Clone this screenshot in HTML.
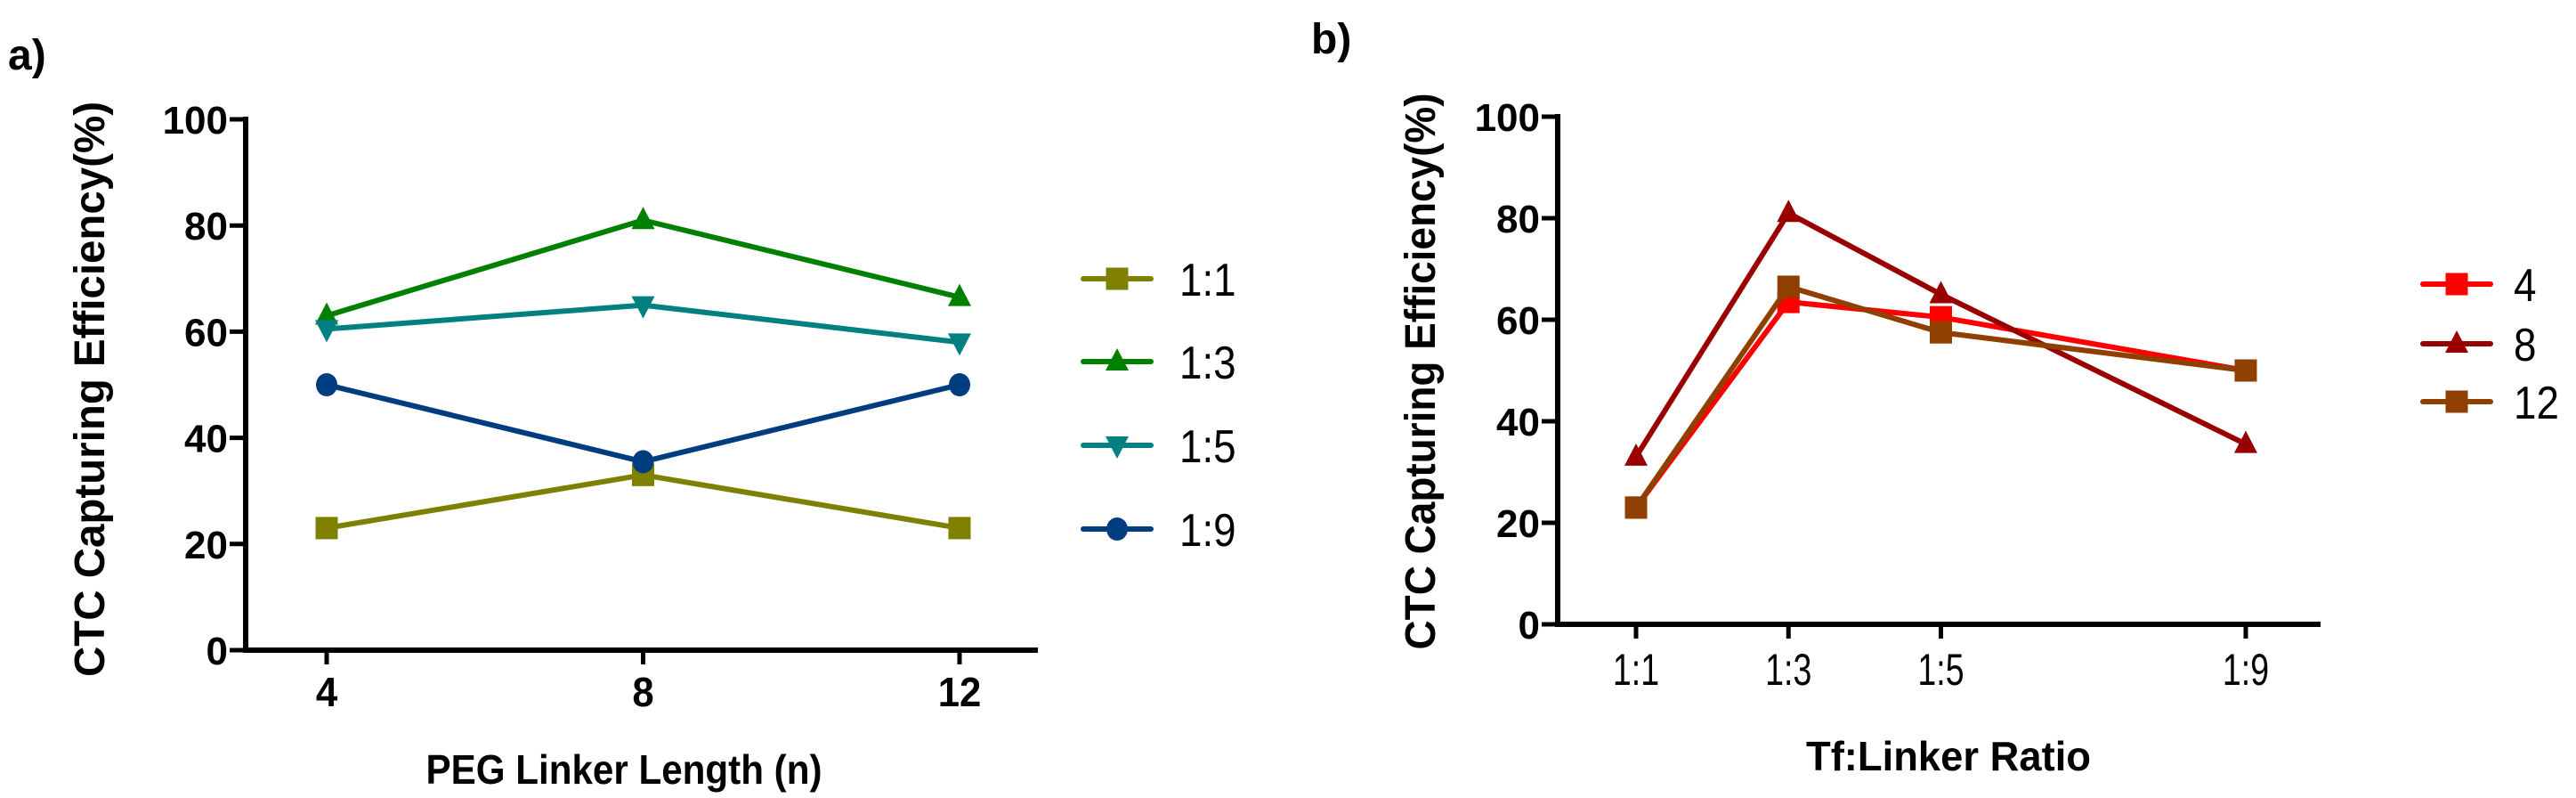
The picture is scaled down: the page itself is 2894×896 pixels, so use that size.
<!DOCTYPE html>
<html><head><meta charset="utf-8"><style>
body{margin:0;background:#fff}
svg{display:block;font-family:"Liberation Sans",Arial,sans-serif}
</style></head><body>
<svg id="c" width="2894" height="896" viewBox="0 0 2894 896" xmlns="http://www.w3.org/2000/svg"></svg>
<script>
const aCategories=[4,8,12];
const aSeriesNames=["1:1","1:3","1:5","1:9"];
const a11=[23,33,23];
const a13=[63,81,66.5];
const a15=[60.5,65,58];
const a19=[50,35.5,50];
const bCategories=["1:1","1:3","1:5","1:9"];
const bCatValues=[1,3,5,9];
const bSeriesNames=["4","8","12"];
const b4=[23,63.5,60.5,50];
const b8=[33,81,65,35.5];
const b12=[23,66.5,57.5,50];
const yTicks=[0,20,40,60,80,100];

const svg=document.getElementById('c');
const NS='http://www.w3.org/2000/svg';
function mk(tag,attrs,parent){const e=document.createElementNS(NS,tag);for(const k in attrs)e.setAttribute(k,attrs[k]);(parent||svg).appendChild(e);return e;}
function txt(s,attrs,parent,squeeze,fixedLen){const e=mk('text',attrs,parent);e.textContent=s;
  if(fixedLen){e.setAttribute('textLength',fixedLen);e.setAttribute('lengthAdjust','spacingAndGlyphs');}
  else if(squeeze){const L=e.getComputedTextLength();if(L>0){e.setAttribute('textLength',L*squeeze);e.setAttribute('lengthAdjust','spacingAndGlyphs');}}
  return e;}
function marker(g,type,cx,cy,col){
  let m;
  if(type==='sq') m=mk('rect',{x:cx-12.5,y:cy-12.5,width:25,height:25,fill:col},g);
  else if(type==='tri') m=mk('polygon',{points:`${cx},${cy-15} ${cx-13},${cy+10} ${cx+13},${cy+10}`,fill:col},g);
  else if(type==='itri') m=mk('polygon',{points:`${cx},${cy+15} ${cx-13},${cy-10} ${cx+13},${cy-10}`,fill:col},g);
  else m=mk('ellipse',{cx:cx,cy:cy,rx:12,ry:13,fill:col},g);
  return m;
}
function panel(cfg){
  const g=mk('g',{});
  
  
  const y=v=>cfg.y0-(v/100)*(cfg.y0-cfg.y100);
  const ax=mk('path',{d:`M${cfg.x0},${cfg.y100-3} V${cfg.y0} H${cfg.xEnd}`,stroke:'#000','stroke-width':6,fill:'none'},g);
  
  
  yTicks.forEach(t=>{
    mk('line',{x1:cfg.x0-18,x2:cfg.x0,y1:y(t),y2:y(t),stroke:'#000','stroke-width':5},g);
    const l=txt(String(t),{x:cfg.x0-20,y:y(t)+16,'font-size':44,'font-weight':'bold','text-anchor':'end'},g);
    
    
  });
  cfg.cats.forEach((c,i)=>{
    const xx=cfg.x(cfg.catVals[i]);
    mk('line',{x1:xx,x2:xx,y1:cfg.y0,y2:cfg.y0+16,stroke:'#000','stroke-width':5},g);
    const l=txt(String(c),{x:xx,y:cfg.tickY,'font-size':cfg.tickFs,'font-weight':cfg.tickW,'text-anchor':'middle'},g,cfg.tickSq);
    
    
  });
  const xt=txt(cfg.xTitle,{x:cfg.xTitleX,y:cfg.xTitleY,'font-size':46,'font-weight':'bold','text-anchor':'middle'},g,null,cfg.xTitleLen);
  
  
  const yt=txt('CTC Capturing Efficiency(%)',{x:0,y:0,'font-size':48,'font-weight':'bold','text-anchor':'middle',transform:`translate(${cfg.yTitleX},${cfg.yTitleY}) rotate(-90)`},g,null,cfg.yTitleLen);
  
  
  const pl=txt(cfg.label,{x:cfg.labelX,y:cfg.labelY,'font-size':48,'font-weight':'bold'},g);
  
  
  cfg.series.forEach((s,si)=>{
    const sg=mk('g',{},g);
    
    
    const pts=s.vals.map((v,i)=>[cfg.x(cfg.catVals[i]),y(v)]);
    mk('polyline',{points:pts.map(p=>p.join(',')).join(' '),stroke:s.col,'stroke-width':6,fill:'none','stroke-linejoin':'round'},sg);
    pts.forEach(p=>{const m=marker(sg,s.m,p[0],p[1],s.col);
      
      });
    const ly=cfg.legY[si];
    const lg=mk('g',{},g);
    
    
    mk('line',{x1:cfg.legX-38,x2:cfg.legX+38,y1:ly,y2:ly,stroke:s.col,'stroke-width':6,'stroke-linecap':'round'},lg);
    marker(lg,s.m,cfg.legX,ly,s.col);
    txt(s.name,{x:cfg.legTextX,y:ly+19,'font-size':52},lg,0.88);
  });
}
panel({name:'chart-a',label:'a)',labelX:9,labelY:78,x0:276,xEnd:1166,y0:730,y100:134,
  x:v=>367+(v-4)*(1078-367)/8,cats:aCategories,catVals:aCategories,tickY:793,tickFs:46,tickW:'bold',tickSq:0.95,
  xTitle:'PEG Linker Length (n)',xTitleX:701,xTitleY:880,xTitleLen:445,yTitleX:117,yTitleY:437,yTitleLen:646,
  legX:1255,legTextX:1325,legY:[313,406,500,594],
  series:[{name:aSeriesNames[0],vals:a11,col:'#808000',m:'sq'},
          {name:aSeriesNames[1],vals:a13,col:'#008000',m:'tri'},
          {name:aSeriesNames[2],vals:a15,col:'#008080',m:'itri'},
          {name:aSeriesNames[3],vals:a19,col:'#003d80',m:'circ'}]});
panel({name:'chart-b',label:'b)',labelX:1473,labelY:60,x0:1750,xEnd:2607,y0:701,y100:131,
  x:v=>1838+(v-1)*(2523-1838)/8,cats:bCategories,catVals:bCatValues,tickY:769,tickFs:50,tickW:'normal',tickSq:0.75,
  xTitle:'Tf:Linker Ratio',xTitleX:2189,xTitleY:865,xTitleLen:320,yTitleX:1612,yTitleY:417,yTitleLen:625,
  legX:2760,legTextX:2824,legY:[319,386,451],
  series:[{name:bSeriesNames[0],vals:b4,col:'#ff0000',m:'sq'},
          {name:bSeriesNames[1],vals:b8,col:'#990000',m:'tri'},
          {name:bSeriesNames[2],vals:b12,col:'#8f4000',m:'sq'}]});
</script>
</body></html>
